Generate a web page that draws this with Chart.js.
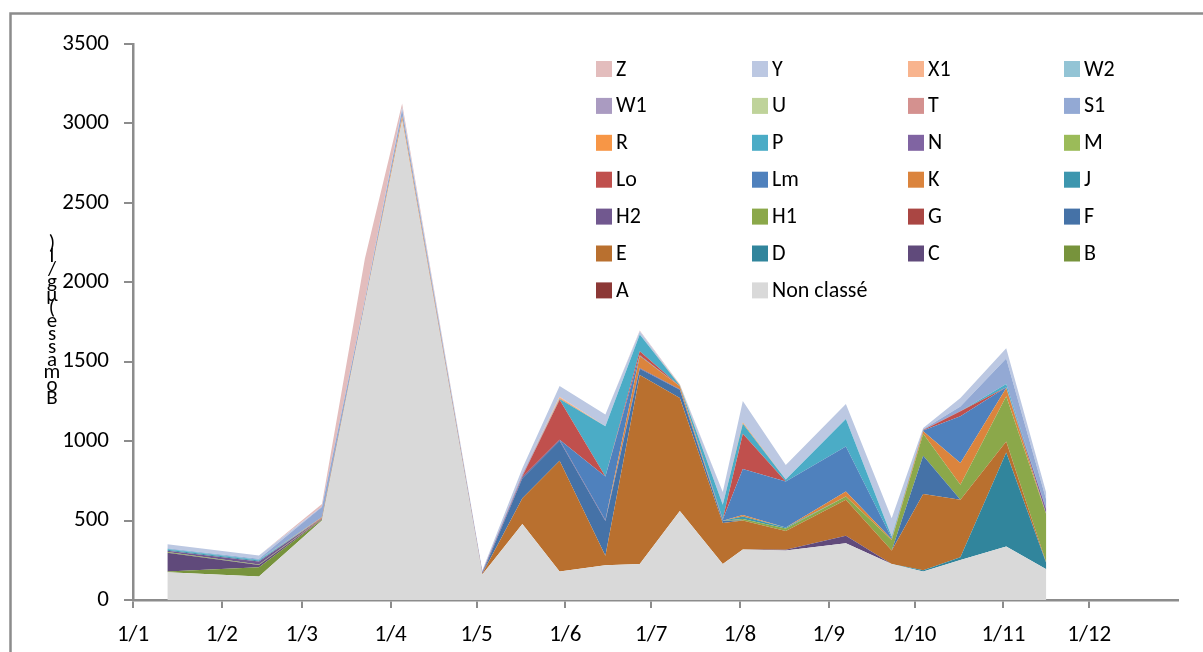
<!DOCTYPE html>
<html>
<head>
<meta charset="utf-8">
<script src="https://cdn.jsdelivr.net/npm/chart.js@4.4.1/dist/chart.umd.min.js"></script>
<style>
  html, body { margin: 0; padding: 0; background: #ffffff; }
  #wrap { position: relative; width: 1203px; height: 652px; overflow: hidden; }
  canvas { display: block; }
</style>
</head>
<body>
<div id="wrap"><canvas id="c" width="1203" height="652"></canvas></div>
<script>
// ---------------- DATA ----------------
const sampleDates = ["13/1","14/2","8/3","23/3","5/4","3/5","17/5","30/5","15/6","27/6","11/7","26/7","2/8","17/8","7/9","23/9","4/10","17/10","2/11","16/11"];
const monthTickLabels = ["1/1","1/2","1/3","1/4","1/5","1/6","1/7","1/8","1/9","1/10","1/11","1/12"];
const yTicks = [0, 500, 1000, 1500, 2000, 2500, 3000, 3500];
const yAxisTitle = "Bomasse(µg/l)";

// series, bottom of the stack first
const nonClasse = [175,148,500,1860,3020,160,478,179,218,227,560,227,318,311,357,227,179,252,336,193];
const serA  = [0,0,0,0,0,0,0,0,0,0,0,0,0,0,0,0,0,0,0,0];
const serB  = [5,58,5,0,0,0,0,0,0,0,0,0,0,0,0,0,0,0,0,0];
const serC  = [118,14,3,0,0,0,0,0,0,0,0,0,0,6,47,0,0,0,0,0];
const serD  = [0,0,0,0,0,0,0,0,0,0,0,0,0,0,0,0,8,17,593,38];
const serE  = [0,0,5,5,10,5,163,698,60,1190,712,257,182,118,227,84,480,362,69,3];
const serF  = [0,0,0,0,0,0,125,126,220,38,52,15,0,0,0,0,241,0,0,0];
const serG  = [0,0,0,0,0,0,0,0,0,0,0,0,0,0,0,0,0,0,0,0];
const serH1 = [4,3,0,0,0,0,0,0,0,0,0,0,10,15,20,67,139,94,284,305];
const serH2 = [8,20,3,0,0,10,8,6,6,6,3,0,0,0,0,0,0,0,0,0];
const serJ  = [6,5,0,0,0,0,0,0,0,0,0,0,15,6,0,0,0,0,0,0];
const serK  = [0,0,5,5,10,0,0,0,0,75,18,0,10,0,32,5,15,137,53,0];
const serLm = [0,0,0,0,0,0,0,0,274,5,0,8,290,290,284,8,5,294,5,0];
const serLo = [0,0,0,0,0,0,5,252,0,25,0,3,222,0,0,0,3,32,0,0];
const serM  = [0,0,0,0,0,0,0,0,0,0,0,0,0,0,0,0,0,0,0,0];
const serN  = [0,0,0,0,0,0,5,0,0,0,0,0,0,0,0,0,0,0,0,30];
const serP  = [5,6,0,0,0,0,0,5,315,105,5,90,63,12,172,8,0,0,20,0];
const serR  = [0,0,0,0,5,0,0,5,0,0,3,0,8,0,0,0,0,0,0,0];
const serS1 = [5,6,65,20,45,5,10,0,0,0,0,0,0,0,0,0,5,30,160,60];
const serT  = [0,0,0,0,0,0,0,3,0,0,0,0,0,0,0,0,0,0,0,0];
const serU  = [0,0,0,0,0,0,0,0,0,0,0,0,0,0,0,0,0,0,0,0];
const serW1 = [0,0,3,0,0,0,5,0,0,0,0,0,0,0,0,0,0,0,0,0];
const serW2 = [0,0,0,0,0,0,0,0,0,0,0,0,0,0,0,0,0,0,0,0];
const serX1 = [0,0,0,0,0,0,0,5,0,0,0,0,0,0,0,0,0,0,0,0];
const serY  = [25,20,0,0,10,5,30,68,74,20,0,80,135,92,95,116,8,53,65,45];
const serZ  = [0,0,15,260,25,0,0,0,0,5,5,0,0,0,0,0,0,0,0,0];

const seriesNames  = ["Non classé","A","B","C","D","E","F","G","H1","H2","J","K","Lm","Lo","M","N","P","R","S1","T","U","W1","W2","X1","Y","Z"];
const seriesValues = [nonClasse,serA,serB,serC,serD,serE,serF,serG,serH1,serH2,serJ,serK,serLm,serLo,serM,serN,serP,serR,serS1,serT,serU,serW1,serW2,serX1,serY,serZ];
const seriesColors = ["#D9D9D9","#8C3836","#77933C","#604A7B","#31859C","#B9702F","#4572A7","#AA4643","#8BA84A","#71588F","#3D96AE","#DB843D","#4F81BD","#C0504D","#9BBB59","#8064A2","#4BACC6","#F79646","#93A9D4","#D4918F","#BFD39A","#AA9BC1","#93C4D5","#F8B48E","#BCC8E2","#E3BDBD"];

// ---------------- helpers ----------------
const monthLengths = [31,28,31,30,31,30,31,31,30,31,30,31];
const monthStart = [];
{ let acc = 0; for (let m = 0; m < 12; m++) { monthStart.push(acc); acc += monthLengths[m]; } }
function dayOfYear(s) { const [d, m] = s.split("/").map(Number); return monthStart[m - 1] + d - 1; }
const xDays = sampleDates.map(dayOfYear);

const FONT = "Carlito, Calibri, Lato, sans-serif";
const GRAY = "#8c8c8c";

const datasets = seriesNames.map((name, i) => ({
  label: name,
  data: seriesValues[i].map((v, k) => ({ x: xDays[k], y: v })),
  backgroundColor: seriesColors[i],
  borderColor: "rgba(0,0,0,0)",
  borderWidth: 0,
  pointRadius: 0,
  tension: 0,
  fill: i === 0 ? "origin" : "-1"
}));

const framePlugin = {
  id: "frame",
  beforeDraw(chart) {
    const ctx = chart.ctx;
    ctx.save();
    ctx.strokeStyle = GRAY;
    ctx.lineWidth = 2.5;
    ctx.beginPath();
    ctx.moveTo(10.5, 700);
    ctx.lineTo(10.5, 13.5);
    ctx.lineTo(1300, 13.5);
    ctx.stroke();
    ctx.restore();
  },
  afterDraw(chart) {
    const ctx = chart.ctx;
    ctx.save();
    // stacked y-axis title
    ctx.fillStyle = "#000";
    ctx.font = "21px " + FONT;
    ctx.textAlign = "center";
    ctx.textBaseline = "middle";
    const chars = Array.from(yAxisTitle);
    chars.forEach((ch, i) => {
      ctx.fillText(ch, 52, 399 - i * 12.9);
    });
    // legend: reverse of stack order, 4 columns
    const order = seriesNames.map((n, i) => i).reverse();
    ctx.textAlign = "left";
    ctx.font = "22px " + FONT;
    order.forEach((si, k) => {
      const col = k % 4, row = Math.floor(k / 4);
      const x = 596 + col * 156;
      const y = 61 + row * 36.9;
      ctx.fillStyle = seriesColors[si];
      ctx.fillRect(x, y, 16, 16);
      ctx.fillStyle = "#000";
      ctx.fillText(seriesNames[si], x + 20, y + 9);
    });
    ctx.restore();
  }
};

new Chart(document.getElementById("c"), {
  type: "line",
  data: { datasets },
  plugins: [framePlugin],
  options: {
    responsive: false,
    animation: false,
    layout: { padding: { left: 0, right: 25, top: 44, bottom: 0 } },
    plugins: { legend: { display: false }, tooltip: { enabled: false } },
    scales: {
      x: {
        type: "linear",
        min: 0,
        max: 365,
        border: { color: GRAY, width: 2.5 },
        grid: { display: true, drawOnChartArea: false, drawTicks: true, tickLength: 8, color: GRAY, lineWidth: 2 },
        ticks: {
          color: "#000",
          font: { family: FONT, size: 23 },
          padding: 13,
          autoSkip: false,
          maxRotation: 0,
          callback: (v) => { const i = monthStart.indexOf(v); return i >= 0 ? monthTickLabels[i] : ""; }
        },
        afterBuildTicks: (axis) => { axis.ticks = monthStart.map(v => ({ value: v })); },
        afterFit: (axis) => { axis.height = 52; }
      },
      y: {
        stacked: true,
        min: 0,
        max: 3500,
        border: { color: GRAY, width: 2.5 },
        grid: { display: true, drawOnChartArea: false, drawTicks: true, tickLength: 9, color: GRAY, lineWidth: 2 },
        ticks: {
          color: "#000",
          font: { family: FONT, size: 23 },
          padding: 15,
          callback: (v) => String(v)
        },
        afterBuildTicks: (axis) => { axis.ticks = yTicks.map(v => ({ value: v })); },
        afterFit: (axis) => { axis.width = 133; }
      }
    }
  }
});
</script>
</body>
</html>
